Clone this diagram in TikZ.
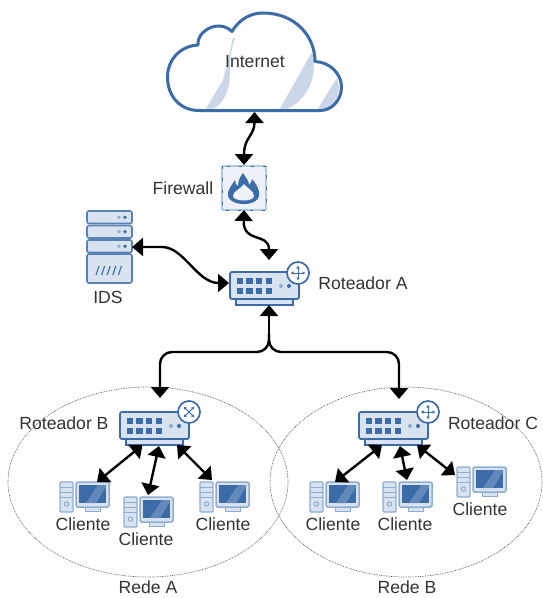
\documentclass[tikz,border=0pt]{standalone}
\usepackage{fontspec}
\setmainfont{Liberation Sans}
\usetikzlibrary{arrows.meta,shapes.geometric}
\definecolor{bluemain}{HTML}{3B6CA8}
\definecolor{bluelight}{HTML}{D9E2EF}
\definecolor{blueband}{HTML}{CBD7E8}
\definecolor{bluemid}{HTML}{8FADD3}
\definecolor{bluepale}{HTML}{EEF2F8}
\definecolor{txtgray}{HTML}{333333}
\tikzset{
  anchorbox/.style={inner sep=0pt,outer sep=0pt,draw=none,fill=none},
  lbl/.style={anchor=center,inner sep=0pt,text=txtgray,font=\fontsize{17.6}{19}\selectfont},
  link/.style={line width=2.4pt,black,{Triangle[width=18pt,length=11pt]}-{Triangle[width=18pt,length=11pt]}},
  linkone/.style={line width=2.4pt,black,-{Triangle[width=18pt,length=11pt]}},
  zone/.style={draw=black!70,densely dotted,line width=0.7pt},
  badge/.pic={
    \draw[fill=white,draw=bluemain,line width=1.7pt] (0,0) circle (11);
    \draw[bluemain,line width=0.9pt,-{Latex[length=3pt,width=3.5pt]}] (0,0) -- (7.5,0);
    \draw[bluemain,line width=0.9pt,-{Latex[length=3pt,width=3.5pt]}] (0,0) -- (-7.5,0);
    \draw[bluemain,line width=0.9pt,-{Latex[length=3pt,width=3.5pt]}] (0,0) -- (0,7.5);
    \draw[bluemain,line width=0.9pt,-{Latex[length=3pt,width=3.5pt]}] (0,0) -- (0,-7.5);
  },
  router/.pic={
    \draw[fill=bluelight,draw=bluemain,line width=1.3pt] (6,27) rectangle (63,33);
    \draw[fill=bluelight,draw=bluemain,line width=1.8pt,rounded corners=2pt] (0,0) rectangle (69,27);
    \foreach \i in {0,1,2,3}{
      \fill[bluemain] (6.5+9.7*\i,6) rectangle ++(6.5,6);
      \fill[bluemain] (6.5+9.7*\i,16) rectangle ++(6.5,6);
    }
    \fill[bluemid] (51,14) circle (2);
    \fill[bluemain] (59,14) circle (2);
  },
  client/.pic={
    \draw[fill=bluelight,draw=bluemid,line width=1.2pt,rounded corners=1pt] (0,0) rectangle (13,30);
    \draw[bluemid,line width=0.9pt] (0,5) -- (13,5) (0,10) -- (13,10) (0,15) -- (13,15);
    \draw[bluemid,line width=1pt] (6.5,22) circle (2.2);
    \draw[fill=bluelight,draw=bluemid,line width=1pt] (25,25) rectangle (40,29);
    \draw[fill=bluelight,draw=bluemid,line width=1.5pt,rounded corners=1.5pt] (16,0) rectangle (49,25);
    \fill[bluemain] (19,3) rectangle (46,21);
    \fill[bluemain!80!white] (26,21) -- (38,3) -- (46,3) -- (46,5) -- (36,21) -- cycle;
  }
}
\begin{document}
\begin{tikzpicture}[x=1pt,y=-1pt]
\useasboundingbox (0,0) rectangle (543,598);
\fill[white] (0,0) rectangle (543,598);

% zones
\node[zone,ellipse,minimum width=280pt,minimum height=190pt,inner sep=0pt] (redea) at (148,482) {};
\node[zone,ellipse,minimum width=272pt,minimum height=190pt,inner sep=0pt] (redeb) at (406,482) {};

% cloud
\fill[blueband] (206,108.5) -- (223,80) -- (233,38) -- (235,38) .. controls (227,62) and (232,70) .. (229,85) .. controls (226,98) and (220,105) .. (214,108.5) -- cycle;
\fill[blueband] (280,108.5) -- (312,52) .. controls (318,72) and (310,98) .. (288,108.5) -- cycle;
\fill[blueband] (318,108.5) -- (337,78) .. controls (342,92) and (336,103) .. (329,108.5) -- cycle;
\draw[bluemain,line width=3pt,line join=round] (200,110.5) .. controls (180,111) and (167.5,96) .. (167.5,77)
  .. controls (167.5,60) and (180,46) .. (198,45)
  .. controls (196,32) and (218,18) .. (232,31.5)
  .. controls (240,18) and (252,13) .. (263,13)
  .. controls (295,13) and (315,36) .. (315,61.5)
  .. controls (330,62) and (341.5,74) .. (341.5,87)
  .. controls (341.5,100) and (332,110.5) .. (320,110.5) -- cycle;
\node[anchorbox,minimum width=175pt,minimum height=99pt] (cloud) at (254.5,62.5) {};
\node[lbl] (tinternet) at (255,62) {Internet};

% firewall
\node[anchorbox,minimum width=44pt,minimum height=44pt] (fw) at (244,188) {};
\draw[fill=bluepale,draw=bluemid,line width=1.2pt,rounded corners=1pt] (222,166) rectangle (266,210);
\draw[bluemain,line width=0.8pt,dash pattern=on 3pt off 9pt] (222,166) rectangle (266,210);
\fill[bluemain] (243,173) .. controls (246,178) and (249,181) .. (249,185)
  .. controls (251,183) and (252,181) .. (252,179)
  .. controls (258,186) and (260,192) .. (259,196)
  .. controls (258,201) and (252,204) .. (244,204)
  .. controls (236,204) and (229,201) .. (228,196)
  .. controls (227,190) and (232,185) .. (235,180)
  .. controls (235,183) and (236,185) .. (238,186)
  .. controls (238,181) and (240,177) .. (243,173) -- cycle;
\fill[bluepale] (244,184) .. controls (247,188) and (254,191) .. (254,196)
  .. controls (254,199) and (249,200.5) .. (244,200.5)
  .. controls (239,200.5) and (233,199) .. (233,196)
  .. controls (233,191) and (241,189) .. (244,184) -- cycle;
\node[lbl] (tfirewall) at (183,188) {Firewall};

% IDS
\node[anchorbox,minimum width=45pt,minimum height=72pt] (ids) at (109.5,247) {};
\foreach \yy in {211,225.5,240}{
  \draw[fill=bluelight,draw=bluemain!85!white,line width=1.6pt,rounded corners=2pt] (87,\yy) rectangle (132,\yy+12.5);
  \fill[bluemid] (119,\yy+6.2) circle (1.8);
  \fill[bluemain] (125,\yy+6.2) circle (1.8);
}
\draw[fill=bluelight,draw=bluemain!85!white,line width=1.6pt,rounded corners=2pt] (87,254) rectangle (132,283);
\foreach \i in {0,1,2,3,4}{
  \draw[bluemain,line width=1.1pt] (96+5.6*\i,275) -- (99+5.6*\i,266);
}
\node[lbl] (tids) at (108,297) {IDS};

% routers
\node[anchorbox,minimum width=69pt,minimum height=33pt] (ra) at (264.5,288.5) {};
\pic at (230,272) {router};
\pic at (298,273) {badge};
\node[lbl] (tra) at (363,283) {Roteador A};

\node[anchorbox,minimum width=69pt,minimum height=33pt] (rb) at (154.5,428.5) {};
\pic at (120,412) {router};
\pic[rotate=45] at (189,412) {badge};
\node[lbl] (trb) at (64,423) {Roteador B};

\node[anchorbox,minimum width=69pt,minimum height=33pt] (rc) at (393.5,428.5) {};
\pic at (359,412) {router};
\pic at (428,412) {badge};
\node[lbl] (trc) at (493,423) {Roteador C};

% clients
\pic at (60,482) {client};
\pic at (124,497) {client};
\pic at (200,482) {client};
\pic at (310,482) {client};
\pic at (383,482) {client};
\pic at (457,467) {client};
\node[anchorbox,minimum width=49pt,minimum height=30pt] (c1) at (84.5,497) {};
\node[anchorbox,minimum width=49pt,minimum height=30pt] (c2) at (148.5,512) {};
\node[anchorbox,minimum width=49pt,minimum height=30pt] (c3) at (224.5,497) {};
\node[anchorbox,minimum width=49pt,minimum height=30pt] (c4) at (334.5,497) {};
\node[anchorbox,minimum width=49pt,minimum height=30pt] (c5) at (407.5,497) {};
\node[anchorbox,minimum width=49pt,minimum height=30pt] (c6) at (481.5,482) {};
\node[lbl] (tc1) at (83,524) {Cliente};
\node[lbl] (tc2) at (146,539) {Cliente};
\node[lbl] (tc3) at (223,524) {Cliente};
\node[lbl] (tc4) at (333,524) {Cliente};
\node[lbl] (tc5) at (405,524) {Cliente};
\node[lbl] (tc6) at (480,509) {Cliente};
\node[lbl] (tredea) at (148,587) {Rede A};
\node[lbl] (tredeb) at (407,587) {Rede B};

% connectors
\draw[link] (cloud.south) .. controls +(0,24) and +(0,-28) .. ([yshift=1pt]fw.north);
\draw[link] (fw.south) .. controls +(-1,34) and +(0,-28) .. ([xshift=4.5pt,yshift=12pt]ra.north);
\draw[link] (ids.east) -- ++(30,0) .. controls +(22,0) and +(-32,0) .. ([xshift=-1pt,yshift=5.5pt]ra.west);
\coordinate (jn) at (269,334);
\draw[linkone] (jn) -- ([xshift=4.5pt]ra.south);
\draw[linkone,rounded corners=12pt] (jn) -- (269,352) -- (160,352) -- ([xshift=5.5pt,yshift=14pt]rb.north);
\draw[linkone,rounded corners=12pt] (jn) -- (269,352) -- (399,352) -- ([xshift=5.5pt,yshift=13pt]rc.north);

\draw[link] ([xshift=-12pt]rb.south) -- ([xshift=12.5pt]c1.north);
\draw[link] ([xshift=4.5pt,yshift=-1pt]rb.south) -- ([yshift=2pt,xshift=-0.5pt]c2.north);
\draw[link] ([xshift=22.5pt]rb.south) -- ([xshift=-12.5pt,yshift=2pt]c3.north);
\draw[link] ([xshift=-11.5pt]rc.south) -- ([xshift=0.5pt]c4.north);
\draw[link] ([xshift=6.5pt,yshift=-1pt]rc.south) -- ([xshift=-0.5pt,yshift=2pt]c5.north);
\draw[link] ([xshift=23.5pt]rc.south) -- ([xshift=-2pt,yshift=7pt]c6.west);
\end{tikzpicture}
\end{document}
